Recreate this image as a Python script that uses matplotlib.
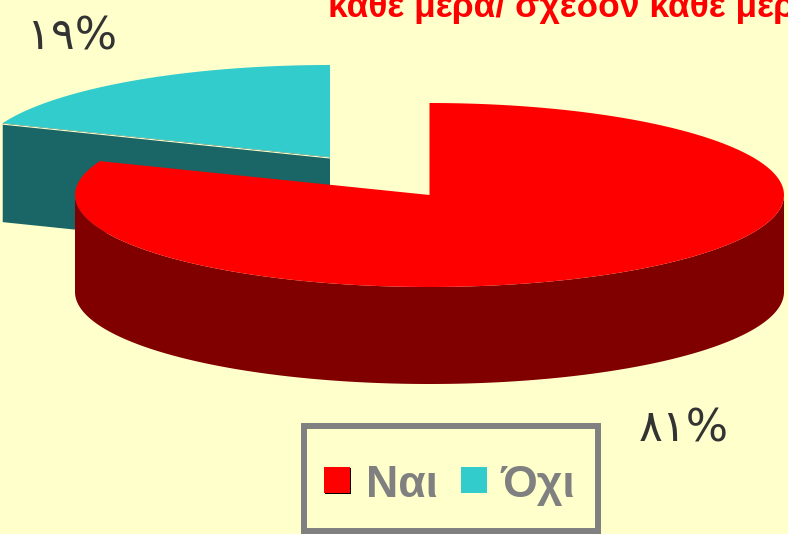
import numpy as np
import matplotlib
matplotlib.use("Agg")
import matplotlib.pyplot as plt
from matplotlib.patches import Polygon, Rectangle

# Pie data
categories = ["Ναι", "Όχι"]
values = [81, 19]
value_labels = ["٨١%", "١٩%"]
title_text = "κάθε μέρα/ σχεδόν κάθε μέρα"

BG = "#FFFFCC"
RED = "#FF0000"
RED_DARK = "#800000"
CYAN = "#33CCCC"
CYAN_DARK = "#1A6666"
GREY = "#808080"
DARK_TEXT = "#333333"

# Layout in pixels
RX, RY = 354.5, 92
CYAN_RX = 352
DEPTH = 97
CYAN_DEPTH = 99
red_c = (429.5, 195)
cyan_c = (330, 157)

fig = plt.figure(figsize=(7.88, 5.34), dpi=100, facecolor=BG)
ax = fig.add_axes([0, 0, 1, 1])
ax.set_xlim(0, 788)
ax.set_ylim(534, 0)
ax.axis("off")


def arc(center, rx, a0, a1, dy=0):
    # angle is clockwise from 12 o'clock, in degrees
    t = np.radians(np.linspace(a0, a1, 200))
    return np.column_stack((center[0] + rx * np.sin(t), center[1] - RY * np.cos(t) + dy))


split = 360 * values[0] / sum(values)

# cyan slice, pulled out to the upper left
cut = arc(cyan_c, CYAN_RX, split, split)[0]
wall = [cyan_c, tuple(cut), (cut[0], cut[1] + CYAN_DEPTH), (cyan_c[0], cyan_c[1] + CYAN_DEPTH)]
ax.add_patch(Polygon(wall, closed=True, fc=CYAN_DARK, ec="none", zorder=1))
top = np.vstack(([cyan_c], arc(cyan_c, CYAN_RX, split, 360)))
ax.add_patch(Polygon(top, closed=True, fc=CYAN, ec="none", zorder=2))
ax.plot([cut[0], cyan_c[0]], [cut[1] + 1, cyan_c[1] + 1], color=BG, lw=0.8, zorder=2)

# red slice
front = arc(red_c, RX, 90, 270)
front_low = arc(red_c, RX, 90, 270, DEPTH)
ax.add_patch(Polygon(np.vstack((front, front_low[::-1])), closed=True, fc=RED_DARK, ec="none", zorder=3))
top = np.vstack(([red_c], arc(red_c, RX, 0, split)))
ax.add_patch(Polygon(top, closed=True, fc=RED, ec="none", zorder=4))

# percentage labels
ax.text(27, 50, value_labels[1], fontsize=32, color=DARK_TEXT, family="DejaVu Sans", va="baseline", ha="left")
ax.text(639, 441, value_labels[0], fontsize=32, color=DARK_TEXT, family="DejaVu Sans", va="baseline", ha="left")

# title, cropped by the picture edge
ax.text(328, 17, title_text, fontsize=25.5, color=RED, fontweight="bold",
        family="Liberation Sans", va="baseline", ha="left", clip_on=False)

# legend
ax.add_patch(Rectangle((304, 426), 294, 105, fc="none", ec=GREY, lw=4.3, zorder=5))
ax.add_patch(Rectangle((325, 468), 26, 26, fc="black", ec="none", zorder=5))
ax.add_patch(Rectangle((324, 467), 26, 26, fc=RED, ec="none", zorder=6))
ax.add_patch(Rectangle((461, 467), 26, 26, fc=CYAN, ec="none", zorder=6))
ax.text(366, 497, categories[0], fontsize=32, color=GREY, fontweight="bold",
        family="Liberation Sans", va="baseline", ha="left")
ax.text(501, 497, categories[1], fontsize=32, color=GREY, fontweight="bold",
        family="Liberation Sans", va="baseline", ha="left")

fig.savefig("out.png", dpi=100, facecolor=BG)
